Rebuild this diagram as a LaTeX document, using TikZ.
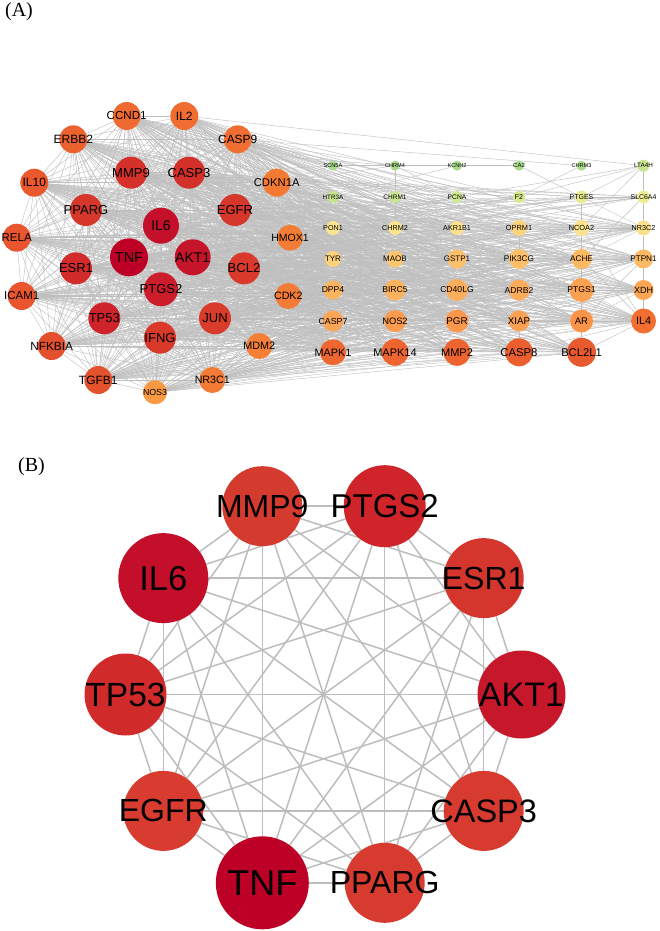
\documentclass[tikz,border=0pt]{standalone}
\usepackage{fontspec}
\setmainfont{Liberation Sans}
\newfontfamily\panelfont{Liberation Serif}
\usetikzlibrary{backgrounds}
\tikzset{gene/.style={circle, inner sep=0pt, outer sep=0pt, draw=none, text=black},
	link/.style={draw=black!25, line width=0.42pt},
	hub/.style={circle, inner sep=0pt, outer sep=0pt, draw=none, text=black},
	hublink/.style={draw=black!26, line width=1.5pt},
	panel/.style={inner sep=0pt, font=\panelfont\fontsize{20}{20}\selectfont}}
\newcommand{\gene}[6]{\definecolor{genecol}{HTML}{#5}%
	\node[gene, minimum size=#4pt, fill=genecol, font=\fontsize{#6}{#6}\selectfont] (#1) at (#2,#3) {\makebox[0pt]{#1}};}
\newcommand{\hubgene}[5]{\definecolor{genecol}{HTML}{#4}%
	\node[hub, minimum size=#3pt, fill=genecol, font=\fontsize{#5}{#5}\selectfont] (#1) at (#2:198) {\makebox[0pt]{#1}};}
\def\leftgenes{TNF,IL6,AKT1,PTGS2,TP53,ESR1,MMP9,CASP3,EGFR,PPARG,IFNG,JUN,BCL2,IL10,RELA,ICAM1,NFKBIA,TGFB1,ERBB2,CCND1,IL2,CASP9,CDKN1A,HMOX1,CDK2,MDM2,NR3C1,NOS3}
\def\coregenes{TNF,IL6,AKT1,PTGS2,TP53,ESR1,MMP9,CASP3,EGFR,PPARG,IFNG,JUN,BCL2}
\def\ringgenes{IL10,RELA,ICAM1,NFKBIA,TGFB1,ERBB2,CCND1,IL2,CASP9}
\def\outergenes{CDKN1A,HMOX1,CDK2,MDM2,NR3C1,NOS3}
\def\rowsthree{PON1,CHRM2,AKR1B1,OPRM1,NCOA2,NR3C2,TYR,MAOB,GSTP1,PIK3CG,ACHE,PTPN1,DPP4,BIRC5,CD40LG,ADRB2,PTGS1,XDH,CASP7,NOS2,PGR,XIAP,AR,IL4,MAPK1,MAPK14,MMP2,CASP8,BCL2L1}
\def\rowsfour{TYR,MAOB,GSTP1,PIK3CG,ACHE,PTPN1,DPP4,BIRC5,CD40LG,ADRB2,PTGS1,XDH,CASP7,NOS2,PGR,XIAP,AR,IL4,MAPK1,MAPK14,MMP2,CASP8,BCL2L1}
\def\hubgenes{PTGS2,MMP9,IL6,TP53,EGFR,TNF,PPARG,CASP3,AKT1,ESR1}

\begin{document}
\begin{tikzpicture}[x=1pt, y=-1pt]
	\useasboundingbox (0,0) rectangle (659,931);

	\node[panel] (tagA) at (19,11.5) {(A)};
	\node[panel] (tagB) at (31.5,466.5) {(B)};

	\gene{TNF}{129}{257.3}{38}{BE0026}{14.5}
	\gene{IL6}{161}{225.7}{36}{C4102A}{14}
	\gene{AKT1}{192.7}{257.3}{36}{C6142A}{14}
	\gene{PTGS2}{161}{289.3}{34}{CB1E2A}{13}
	\gene{TP53}{104.3}{318.3}{32}{CE232A}{13}
	\gene{ESR1}{76}{268.3}{32}{D22B2B}{13}
	\gene{MMP9}{131}{172.7}{32}{D5302A}{13}
	\gene{CASP3}{189}{172.7}{32}{D3302A}{13}
	\gene{EGFR}{235}{210}{32}{D6372B}{13}
	\gene{PPARG}{86}{210}{32}{D6372B}{13}
	\gene{IFNG}{160}{337.7}{32}{D8392B}{13}
	\gene{JUN}{215}{318.3}{32}{DA3C2C}{13}
	\gene{BCL2}{244}{268.3}{32}{D93A2C}{13}
	\gene{IL10}{34.3}{182.7}{28}{EA592E}{12}
	\gene{RELA}{16.7}{237.7}{28}{E8552E}{11.5}
	\gene{ICAM1}{21.7}{296}{28}{E8552E}{11.5}
	\gene{NFKBIA}{51.7}{346}{28}{E4502D}{11.8}
	\gene{TGFB1}{98.3}{380}{28}{E4522D}{12}
	\gene{ERBB2}{73.3}{139.3}{28}{EC622F}{12}
	\gene{CCND1}{126.7}{116}{28}{EF6A30}{11.6}
	\gene{IL2}{184.3}{116}{28}{F06C31}{12}
	\gene{CASP9}{237.7}{139.3}{28}{F06E31}{11.9}
	\gene{CDKN1A}{276.7}{182.7}{28}{F47A34}{11.3}
	\gene{HMOX1}{290}{237.7}{26}{F47D35}{10.5}
	\gene{CDK2}{288.3}{296}{26}{F47B35}{10.7}
	\gene{MDM2}{259.3}{346}{26}{F57F37}{10.8}
	\gene{NR3C1}{212.3}{380}{26}{F47B35}{10.7}
	\gene{NOS3}{155}{392.3}{24}{F99A42}{8.8}

	\gene{SCN5A}{333}{165.7}{10}{A8DA8C}{5.6}
	\gene{CHRM4}{395}{165.7}{10}{A8DA8C}{5.6}
	\gene{KCNH2}{457}{165.7}{10}{A8DA8C}{5.6}
	\gene{CA2}{519}{165.7}{10}{A8DA8C}{6}
	\gene{CHRM3}{581.5}{165.7}{10}{ABDB8C}{5.6}
	\gene{LTA4H}{643.5}{165.7}{12}{C7E490}{6.3}

	\gene{HTR3A}{333}{197}{12}{C5E38F}{6.3}
	\gene{CHRM1}{395}{197}{12}{CAE591}{6.5}
	\gene{PCNA}{457}{197}{12}{D0E792}{6.7}
	\gene{F2}{519}{197}{12}{D8E991}{7}
	\gene{PTGES}{581.5}{197}{13}{E6EC95}{7}
	\gene{SLC6A4}{643.5}{197}{13}{EFEE98}{6.9}

	\gene{PON1}{333}{228}{14}{FCE48E}{7.2}
	\gene{CHRM2}{395}{228}{14}{FCE48E}{7.2}
	\gene{AKR1B1}{457}{228}{14}{FDE08A}{7.2}
	\gene{OPRM1}{519}{228}{16}{FDD47E}{7.4}
	\gene{NCOA2}{581.5}{228}{16}{FCE38E}{7.4}
	\gene{NR3C2}{643.5}{228}{15}{FCE08B}{7.2}

	\gene{TYR}{333}{259}{16}{FDD27C}{8}
	\gene{MAOB}{395}{259}{17}{FDC66F}{8}
	\gene{GSTP1}{457}{259}{19}{FDC06A}{8}
	\gene{PIK3CG}{519}{259}{20}{FDBF69}{8.2}
	\gene{ACHE}{581.5}{259}{20}{FDB862}{8.2}
	\gene{PTPN1}{643.5}{259}{19}{FDBA64}{8.2}

	\gene{DPP4}{333}{290}{19}{FDB45F}{8.6}
	\gene{BIRC5}{395}{290}{21}{FDB25E}{8.6}
	\gene{CD40LG}{457}{290}{22}{FDAE5B}{8.6}
	\gene{ADRB2}{519}{290}{21}{FDAD5A}{8.6}
	\gene{PTGS1}{581.5}{290}{24}{FCA152}{8.6}
	\gene{XDH}{643.5}{290}{20}{FCA654}{9}

	\gene{CASP7}{333}{321}{21}{FDA556}{8.8}
	\gene{NOS2}{395}{321}{22}{FC9B4D}{9.3}
	\gene{PGR}{457}{321}{23}{FC984B}{9.8}
	\gene{XIAP}{519}{321}{21}{FCA153}{9.8}
	\gene{AR}{581.5}{321}{23}{FB9446}{9.6}
	\gene{IL4}{643.5}{321}{25}{F36E31}{10.8}

	\gene{MAPK1}{333}{352.3}{26}{EE6730}{10.8}
	\gene{MAPK14}{395}{352.3}{27}{EE6530}{11}
	\gene{MMP2}{457}{352.3}{27}{EE6430}{11}
	\gene{CASP8}{519}{352.3}{28}{EB5F2F}{11.3}
	\gene{BCL2L1}{581.5}{352.3}{29}{E85A2E}{11.2}

	\begin{scope}[on background layer]
		\foreach \a [count=\i] in \leftgenes {
			\foreach \b [count=\j] in \leftgenes {
				\ifnum\j>\i \draw[link] (\a) -- (\b); \fi
			}
		}
		\foreach \a in \coregenes
			\foreach \b in \rowsthree
				\draw[link] (\a) -- (\b);
		\foreach \a in \ringgenes
			\foreach \b in \rowsthree
				\draw[link] (\a) -- (\b);
		\foreach \a in \outergenes
			\foreach \b in \rowsfour
				\draw[link] (\a) -- (\b);
		\foreach \a in {TNF,IL6,AKT1,ESR1,EGFR,CASP3,MMP9,BCL2}
			\foreach \b in {HTR3A,PCNA,F2,PTGES,SLC6A4}
				\draw[link] (\a) -- (\b);
		\foreach \a/\b in {CASP9/CHRM3,CASP9/SCN5A,IL2/SCN5A,CCND1/SCN5A,CDKN1A/SCN5A,IL2/LTA4H,CASP9/CHRM4,CDKN1A/CHRM4,IL10/SCN5A,ERBB2/CHRM4,
				SCN5A/CHRM4,CHRM4/KCNH2,KCNH2/CA2,CHRM4/CHRM1,CHRM1/CHRM2,CHRM4/PCNA,KCNH2/HTR3A,CA2/PTGES,CHRM3/F2,
				LTA4H/PTGES,LTA4H/NR3C2,LTA4H/F2,LTA4H/PCNA,LTA4H/SLC6A4,LTA4H/NCOA2,OPRM1/PIK3CG,PTGES/NCOA2,NCOA2/ACHE,ACHE/PTGS1,
				PTGS1/AR,AR/BCL2L1,SLC6A4/NR3C2,NR3C2/PTPN1,PTPN1/XDH,XDH/IL4,IL4/PTGS1,IL4/AR,IL4/BCL2L1,IL4/CASP8,IL4/XIAP,
				IL4/NR3C2,IL4/PTPN1,IL4/ACHE,IL4/NCOA2,XDH/PTGS1,XDH/AR,NR3C2/NCOA2,NR3C2/PTGES,NR3C2/ACHE,PTPN1/ACHE,
				PTPN1/PTGS1,PTPN1/AR,BCL2L1/PTGS1,CASP8/XIAP,SLC6A4/PTGES,SLC6A4/ACHE}
			\draw[link] (\a) -- (\b);
	\end{scope}

	\begin{scope}[shift={(323.5,694.5)}, name prefix=b-]
		\hubgene{PTGS2}{-72}{82}{CF242A}{33}
		\hubgene{MMP9}{-108}{80}{D53A2F}{32}
		\hubgene{IL6}{-144}{90}{C30F2A}{34.5}
		\hubgene{TP53}{180}{82}{D02A2B}{33.5}
		\hubgene{EGFR}{144}{80}{D83C30}{32}
		\hubgene{TNF}{108}{93}{BD0026}{36}
		\hubgene{PPARG}{72}{80}{D73B2F}{32}
		\hubgene{CASP3}{36}{80}{D73B2F}{32.5}
		\hubgene{AKT1}{0}{88}{C7172B}{34}
		\hubgene{ESR1}{-36}{80}{D4362E}{32}
		\begin{scope}[on background layer]
			\foreach \a [count=\i] in \hubgenes {
				\foreach \b [count=\j] in \hubgenes {
					\ifnum\j>\i \draw[hublink] (\a) -- (\b); \fi
				}
			}
		\end{scope}
	\end{scope}
\end{tikzpicture}
\end{document}
